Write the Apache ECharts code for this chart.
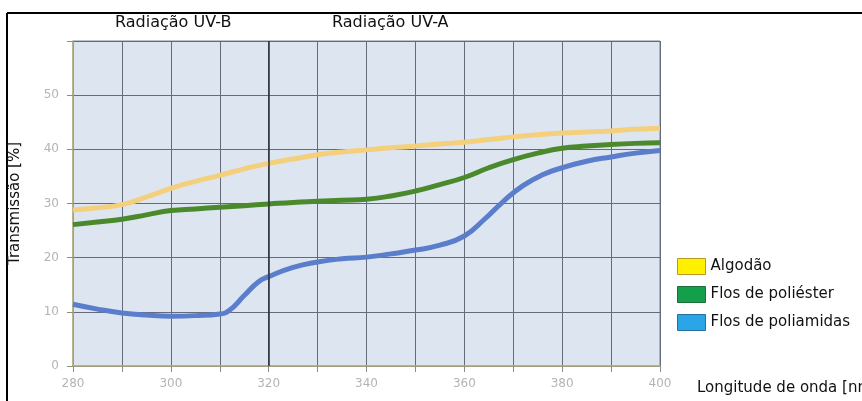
<!DOCTYPE html>
<html>
<head>
<meta charset="utf-8">
<script src="https://cdn.jsdelivr.net/npm/echarts@6/dist/echarts.min.js"></script>
<style>
  html, body { margin: 0; padding: 0; background: #fff; }
  #chart { width: 862px; height: 401px; }
</style>
</head>
<body>
<div id="chart"></div>
<script>
// comprimento de onda (nm)
var waveLen = [280, 285, 290, 295, 300, 305, 310, 315, 320, 325, 330, 335, 340,
               345, 350, 355, 360, 365, 370, 375, 380, 385, 390, 395, 400];
var algodao = [28.8, 29.2, 29.8, 31.2, 32.8, 34.1, 35.2, 36.4, 37.4, 38.2, 39.0, 39.5, 39.9,
               40.3, 40.6, 41.0, 41.3, 41.8, 42.3, 42.7, 43.0, 43.2, 43.4, 43.7, 43.9];
var poliester = [26.1, 26.6, 27.1, 27.9, 28.7, 29.0, 29.3, 29.6, 29.9, 30.2, 30.4, 30.6, 30.8,
                 31.4, 32.3, 33.5, 34.8, 36.6, 38.1, 39.3, 40.2, 40.6, 40.9, 41.1, 41.2];
// poliamidas tem mais pontos na subida
var waveLenPA = [280, 285, 290, 295, 300, 305, 310, 312, 315, 318, 320, 325, 330, 335, 340,
                 345, 350, 355, 360, 364, 368, 372, 376, 380, 385, 390, 395, 400];
var poliamidas = [11.4, 10.5, 9.8, 9.4, 9.2, 9.3, 9.6, 10.3, 13.0, 15.6, 16.5, 18.2, 19.2, 19.8, 20.1,
                  20.7, 21.4, 22.3, 24.0, 27.0, 30.4, 33.3, 35.3, 36.6, 37.8, 38.6, 39.3, 39.8];
var seriesNames = ['Algodão', 'Flos de poliéster', 'Flos de poliamidas'];
var regionLabels = ['Radiação UV-B', 'Radiação UV-A'];

function pairs(xs, ys) {
    var out = [];
    for (var i = 0; i < xs.length; i++) {
        out.push([xs[i], ys[i]]);
    }
    return out;
}

var font = 'DejaVu Sans';
var myChart = echarts.init(document.getElementById('chart'));

myChart.setOption({
    animation: false,
    textStyle: { fontFamily: font },
    grid: {
        left: 69, right: 202, top: 41, bottom: 35,
        show: true,
        backgroundColor: '#dce5f0',
        borderColor: '#7c828c',
        borderWidth: 1
    },
    legend: {
        orient: 'vertical',
        left: 672, top: 253,
        itemWidth: 28, itemHeight: 16, itemGap: 11,
        icon: 'rect',
        textStyle: { color: '#111', fontSize: 15, fontFamily: font },
        data: [
            { name: seriesNames[0], itemStyle: { color: '#fff000', borderColor: '#b89a20', borderWidth: 1 } },
            { name: seriesNames[1], itemStyle: { color: '#14a04a', borderColor: '#1e6e3a', borderWidth: 1 } },
            { name: seriesNames[2], itemStyle: { color: '#2aa6e6', borderColor: '#2a6ea0', borderWidth: 1 } }
        ]
    },
    xAxis: {
        type: 'value',
        min: 280, max: 400, interval: 10,
        axisLine: { show: true, lineStyle: { color: '#b9b27a', width: 1.5 } },
        axisTick: { show: true, length: 6, lineStyle: { color: '#8a8f78' } },
        axisLabel: {
            color: '#b4b4b4', fontSize: 12, margin: 12,
            formatter: function (v) { return v % 20 === 0 ? v : ''; }
        },
        splitLine: { show: true, lineStyle: { color: '#656b78', width: 1 } }
    },
    yAxis: {
        type: 'value',
        min: 0, max: 60, interval: 10,
        name: 'Transmissão [%]',
        nameLocation: 'middle',
        nameGap: 50,
        nameTextStyle: { color: '#111', fontSize: 15, fontFamily: font },
        axisLine: { show: true, lineStyle: { color: '#b9b27a', width: 1.5 } },
        axisTick: { show: true, length: 6, lineStyle: { color: '#8a8f78' } },
        axisLabel: {
            color: '#b4b4b4', fontSize: 12, margin: 14,
            formatter: function (v) { return v >= 60 ? '' : v; }
        },
        splitLine: { show: true, lineStyle: { color: '#656b78', width: 1 } }
    },
    graphic: [
        { type: 'line', shape: { x1: 7, y1: 13, x2: 862, y2: 13 }, style: { stroke: '#000', lineWidth: 2 } },
        { type: 'line', shape: { x1: 7, y1: 13, x2: 7, y2: 401 }, style: { stroke: '#000', lineWidth: 2 } },
        { type: 'text', left: 115, top: 15, style: { text: regionLabels[0], fill: '#111', font: '16px ' + font } },
        { type: 'text', left: 332, top: 15, style: { text: regionLabels[1], fill: '#111', font: '16px ' + font } },
        { type: 'text', left: 697, top: 381, style: { text: 'Longitude de onda [nm]', fill: '#111', font: '15px ' + font } }
    ],
    series: [
        {
            name: seriesNames[0],
            type: 'line',
            smooth: true,
            showSymbol: false,
            lineStyle: { width: 5, color: '#f4d07c' },
            itemStyle: { color: '#fff000' },
            data: pairs(waveLen, algodao),
            markLine: {
                silent: true,
                symbol: 'none',
                label: { show: false },
                lineStyle: { color: '#2a2d33', width: 1.5, type: 'solid' },
                data: [{ xAxis: 320 }]
            }
        },
        {
            name: seriesNames[1],
            type: 'line',
            smooth: true,
            showSymbol: false,
            lineStyle: { width: 5, color: '#4b8a2c' },
            itemStyle: { color: '#14a04a' },
            data: pairs(waveLen, poliester)
        },
        {
            name: seriesNames[2],
            type: 'line',
            smooth: true,
            showSymbol: false,
            lineStyle: { width: 5, color: '#5a7ecb' },
            itemStyle: { color: '#2aa6e6' },
            data: pairs(waveLenPA, poliamidas)
        }
    ]
});
window.addEventListener('resize', function () {
    myChart.resize();
});
</script>
</body>
</html>
